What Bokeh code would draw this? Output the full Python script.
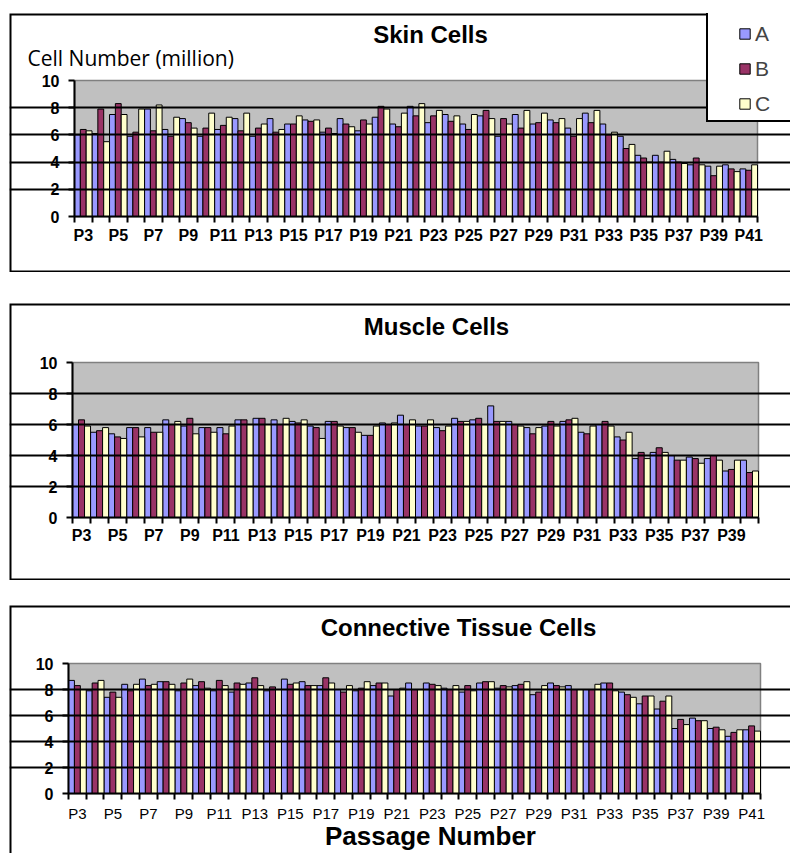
from bokeh.plotting import figure
from bokeh.models import (FixedTicker, Legend, LegendItem, Spacer, Range1d, ColumnDataSource,
                          BoxAnnotation, Label)
from bokeh.layouts import column, row
from bokeh.transform import dodge
from bokeh.embed import file_html
from bokeh.resources import INLINE

# ---------------- data ----------------
skin_passages = ["P3", "P4", "P5", "P6", "P7", "P8", "P9", "P10", "P11", "P12", "P13", "P14", "P15",
                 "P16", "P17", "P18", "P19", "P20", "P21", "P22", "P23", "P24", "P25", "P26", "P27",
                 "P28", "P29", "P30", "P31", "P32", "P33", "P34", "P35", "P36", "P37", "P38", "P39",
                 "P40", "P41"]
skin_A = [6.0, 6.1, 7.5, 5.9, 7.9, 6.4, 7.2, 5.9, 6.4, 7.2, 5.9, 7.2, 6.8, 7.1, 6.2, 7.2, 6.3, 7.3, 6.8,
          8.1, 6.9, 7.5, 6.8, 7.4, 5.9, 7.5, 6.8, 7.1, 6.5, 7.6, 6.8, 5.9, 4.5, 4.5, 4.2, 3.8, 3.7, 3.8, 3.5]
skin_B = [6.4, 7.9, 8.3, 6.2, 6.3, 5.9, 6.9, 6.5, 6.7, 6.3, 6.5, 6.2, 6.8, 7.0, 6.5, 6.8, 7.1, 8.1, 6.6,
          7.4, 7.4, 7.0, 6.4, 7.8, 7.2, 6.5, 6.9, 6.9, 5.9, 6.9, 6.0, 5.0, 4.3, 4.0, 4.0, 4.3, 3.0, 3.5, 3.4]
skin_C = [6.3, 5.5, 7.5, 7.9, 8.2, 7.3, 6.5, 7.6, 7.3, 7.6, 6.8, 6.4, 7.4, 7.1, 6.1, 6.6, 6.8, 7.9, 7.6,
          8.3, 7.8, 7.4, 7.5, 7.2, 6.8, 7.8, 7.6, 7.2, 7.2, 7.8, 6.2, 5.3, 4.0, 4.8, 3.9, 3.8, 3.7, 3.3, 3.8]

muscle_passages = ["P3", "P4", "P5", "P6", "P7", "P8", "P9", "P10", "P11", "P12", "P13", "P14", "P15",
                   "P16", "P17", "P18", "P19", "P20", "P21", "P22", "P23", "P24", "P25", "P26", "P27",
                   "P28", "P29", "P30", "P31", "P32", "P33", "P34", "P35", "P36", "P37", "P38", "P39",
                   "P40"]
muscle_A = [6.0, 5.5, 5.4, 5.8, 5.8, 6.3, 5.9, 5.8, 5.8, 6.3, 6.4, 6.3, 6.2, 5.9, 6.2, 5.8, 5.3, 6.1, 6.6,
            5.9, 5.8, 6.4, 6.3, 7.2, 6.2, 5.8, 5.9, 6.2, 5.5, 6.0, 5.2, 3.8, 4.2, 4.0, 3.9, 3.8, 3.0, 3.7]
muscle_B = [6.3, 5.6, 5.2, 5.8, 5.5, 6.0, 6.4, 5.8, 5.4, 6.3, 6.4, 6.0, 6.1, 5.8, 6.2, 5.8, 5.3, 6.0, 6.0,
            5.9, 5.6, 6.2, 6.4, 6.2, 6.0, 5.4, 6.2, 6.3, 5.4, 6.2, 5.0, 4.2, 4.5, 3.7, 3.8, 4.0, 3.1, 2.9]
muscle_C = [5.9, 5.8, 5.1, 5.2, 5.5, 6.2, 5.4, 5.5, 5.9, 6.0, 6.0, 6.4, 6.3, 5.1, 5.9, 5.5, 5.9, 6.1, 6.3,
            6.3, 5.9, 6.2, 6.0, 6.2, 5.9, 5.8, 5.9, 6.4, 5.9, 5.9, 5.5, 3.8, 4.2, 3.7, 3.5, 3.7, 3.7, 3.0]

conn_passages = list(skin_passages)
conn_A = [8.7, 7.9, 7.4, 8.4, 8.8, 8.6, 7.9, 8.3, 7.9, 7.8, 8.5, 7.9, 8.8, 8.6, 8.3, 8.0, 7.9, 8.3, 7.5,
          8.5, 8.5, 8.1, 7.8, 8.5, 8.1, 8.3, 7.6, 8.5, 8.3, 8.0, 8.5, 7.8, 6.9, 6.5, 5.0, 5.8, 5.0, 4.4, 4.9]
conn_B = [8.3, 8.5, 7.8, 7.9, 8.3, 8.6, 8.5, 8.6, 8.7, 8.5, 8.9, 8.2, 8.4, 8.3, 8.9, 7.8, 8.1, 8.5, 8.0,
          8.0, 8.4, 8.0, 8.3, 8.6, 8.3, 8.4, 7.8, 8.3, 8.0, 8.0, 8.5, 7.6, 7.5, 7.1, 5.7, 5.6, 5.1, 4.7, 5.2]
conn_C = [8.0, 8.7, 7.4, 8.4, 8.4, 8.4, 8.8, 8.1, 8.3, 8.4, 8.3, 8.0, 8.5, 8.3, 8.5, 8.3, 8.6, 8.5, 8.1,
          8.0, 8.3, 8.3, 7.9, 8.6, 8.2, 8.6, 8.3, 8.2, 8.0, 8.4, 7.9, 7.4, 7.5, 7.5, 5.3, 5.6, 4.9, 4.9, 4.8]

series_names = ["A", "B", "C"]
series_colors = ["#9999FF", "#993366", "#FFFFCC"]
y_ticks = [0, 2, 4, 6, 8, 10]
grid_ticks = [2, 4, 6, 8]
Y_MAX = 10

FONT = "Liberation Sans"


def build_panel(cats, a, b, c, W, H, margins, bottom_border, xlabel_style, xlabel_size,
                xlabel_standoff):
    """margins = pixel distance from canvas edges to the grey plot area (left, right, top, bottom)."""
    n = len(cats)
    left, right, top, bottom = margins
    ux = (W - left - right) / n
    uy = (H - top - bottom) / Y_MAX
    x0, x1 = -0.5 - left / ux, n - 0.5 + right / ux
    y0, y1 = -bottom / uy, Y_MAX + top / uy
    src = ColumnDataSource(dict(x=list(range(n)), A=a, B=b, C=c))
    p = figure(width=W, height=H, output_backend="svg", toolbar_location=None,
               x_range=Range1d(x0, x1), y_range=Range1d(y0, y1),
               min_border_left=0, min_border_right=0, min_border_top=0, min_border_bottom=0,
               background_fill_color="white", border_fill_color="white",
               outline_line_color=None)
    # grey plot area
    p.add_layout(BoxAnnotation(left=-0.5, right=n - 0.5, bottom=0, top=Y_MAX,
                               fill_color="#C0C0C0", fill_alpha=1.0,
                               line_color="#808080", line_alpha=1.0, line_width=1.5,
                               level="image"))
    # chart-area frame (left, top and optionally bottom edges visible)
    p.add_layout(BoxAnnotation(left=x0, right=x1 + 5, top=y1,
                               bottom=y0 if bottom_border else y0 - 5,
                               fill_alpha=0, line_color="black", line_alpha=1.0, line_width=4))
    rends = []
    for k, (s, col) in enumerate(zip(series_names, series_colors)):
        r = p.vbar(x=dodge("x", (k - 1) / 3), top=s, width=1 / 3, source=src,
                   fill_color=col, line_color="black", line_width=1, level="underlay")
        rends.append(r)

    p.xgrid.visible = False
    p.ygrid.ticker = FixedTicker(ticks=grid_ticks)
    p.ygrid.bounds = (-0.5, n - 0.5)
    p.ygrid.grid_line_color = "black"
    p.ygrid.grid_line_width = 2
    p.ygrid.level = "glyph"

    yax = p.yaxis[0]
    yax.fixed_location = -0.5
    yax.bounds = (0, Y_MAX)
    yax.ticker = FixedTicker(ticks=y_ticks)
    yax.major_tick_out = 6
    yax.major_tick_in = 0
    yax.minor_tick_line_color = None
    yax.major_label_standoff = 9
    yax.major_label_text_font_size = "16px"
    yax.major_label_text_font_style = "bold"

    xax = p.xaxis[0]
    xax.fixed_location = 0
    xax.bounds = (-0.5, n - 0.5)
    xax.ticker = FixedTicker(ticks=list(range(0, n, 2)),
                             minor_ticks=[i - 0.5 for i in range(n + 1)])
    xax.major_label_overrides = {i: cats[i] for i in range(0, n, 2)}
    xax.major_tick_out = 0
    xax.major_tick_in = 0
    xax.minor_tick_out = 6
    xax.minor_tick_in = 0
    xax.minor_tick_line_color = "black"
    xax.minor_tick_line_width = 2
    xax.major_label_standoff = xlabel_standoff
    xax.major_label_text_font_size = xlabel_size
    xax.major_label_text_font_style = xlabel_style

    for ax in (xax, yax):
        ax.axis_line_color = "black"
        ax.axis_line_width = 2
        ax.major_tick_line_color = "black"
        ax.major_tick_line_width = 2
        ax.major_label_text_font = FONT
        ax.major_label_text_color = "black"
    return p, rends


def add_text(p, text, x, y, size, style="bold", font=FONT, align="center"):
    p.add_layout(Label(x=x, y=y, x_units="screen", y_units="screen", text=text,
                       text_font=font, text_font_size=size, text_font_style=style,
                       text_align=align, text_baseline="middle", text_color="black"))


# ---- skin panel (with y label + legend) ----
p1, r1 = build_panel(skin_passages, skin_A, skin_B, skin_C, 781, 259, (65, 33, 67, 56),
                     True, "bold", "16px", 4)
add_text(p1, "Skin Cells", 421, 238, "24px")
add_text(p1, "Cell Number (million)", 18, 215, "21px", style="normal", font="Open Sans",
         align="left")

dummy = p1.scatter(x=[], y=[], fill_alpha=0, line_alpha=0)
box_legend = Legend(items=[LegendItem(label=" ", renderers=[dummy])], location=(697, 150),
                    padding=0, margin=0, glyph_width=110, glyph_height=111, label_width=10,
                    label_standoff=0, border_line_color="black", border_line_width=2,
                    border_line_alpha=1.0,
                    background_fill_color="white", background_fill_alpha=1)
item_legend = Legend(items=[LegendItem(label=s, renderers=[r]) for s, r in zip(series_names, r1)],
                     location=(729, 156), padding=0, margin=0, spacing=10, glyph_width=13,
                     glyph_height=13, label_standoff=4, label_height=25,
                     label_text_font=FONT, label_text_font_size="21px",
                     border_line_alpha=0, background_fill_alpha=0)
p1.add_layout(box_legend)
p1.add_layout(item_legend)

# ---- muscle panel ----
p2, _ = build_panel(muscle_passages, muscle_A, muscle_B, muscle_C, 781, 277, (63, 32, 59, 63),
                    True, "bold", "16px", 3)
add_text(p2, "Muscle Cells", 427, 254, "24px")

# ---- connective tissue panel ----
p3, _ = build_panel(conn_passages, conn_A, conn_B, conn_C, 781, 248, (59, 30, 58, 60),
                    False, "normal", "15px", 5)
add_text(p3, "Connective Tissue Cells", 449, 226, "24px")
add_text(p3, "Passage Number", 421, 18, "26px")

layout = row(Spacer(width=9, height=10),
             column(Spacer(width=10, height=13), p1, Spacer(width=10, height=31), p2,
                    Spacer(width=10, height=25), p3, spacing=0),
             spacing=0)

open("out.html", "w").write(file_html(layout, INLINE))
